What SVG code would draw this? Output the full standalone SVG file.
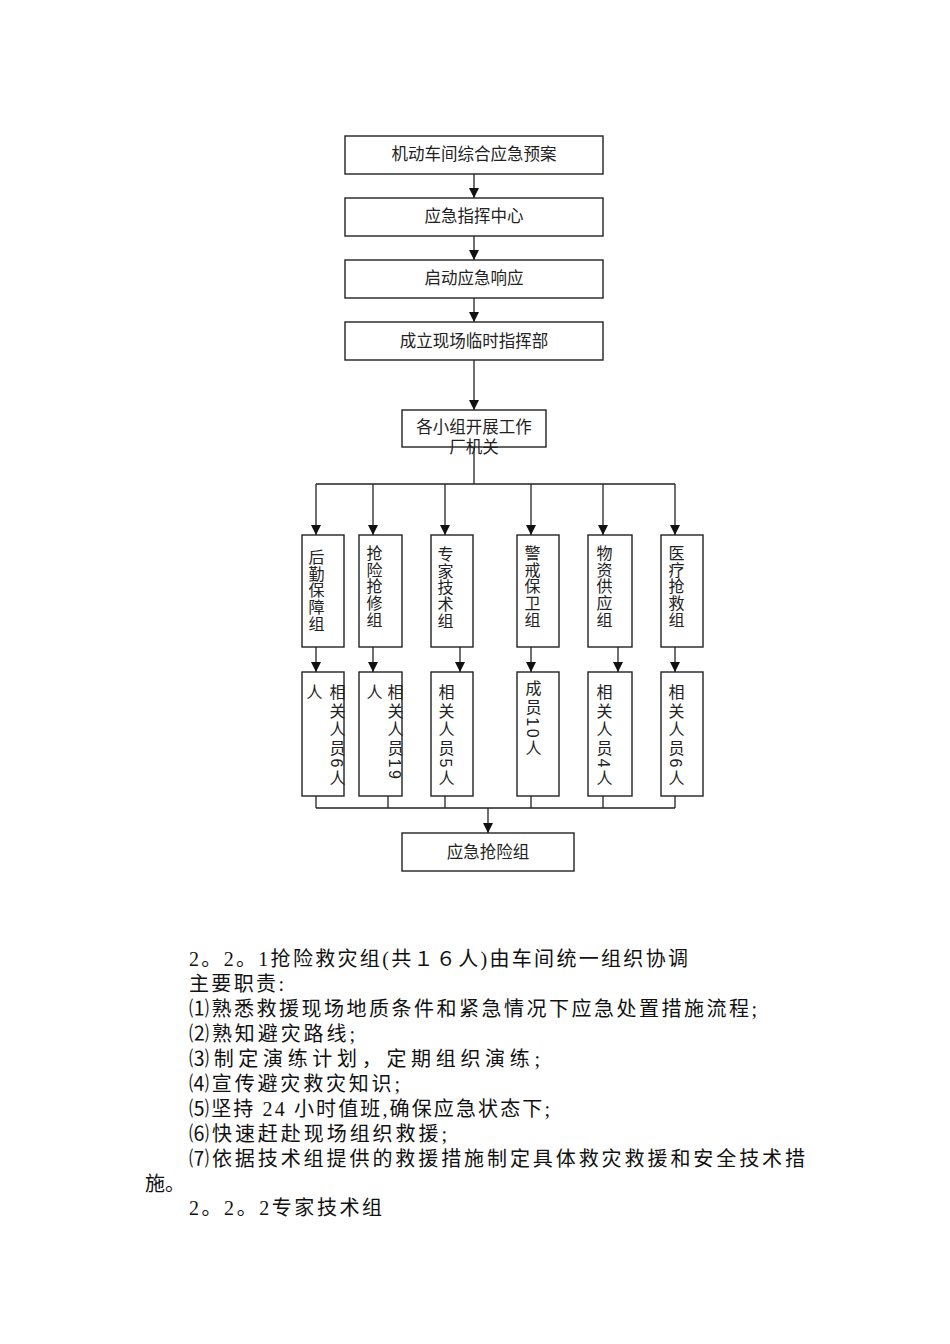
<svg xmlns="http://www.w3.org/2000/svg" width="950" height="1344" viewBox="0 0 950 1344">
<style>
.box{fill:#fff;stroke:#222;stroke-width:1.4}
.lbl{font-family:"Liberation Sans","Noto Sans CJK SC",sans-serif;font-size:16.5px;fill:#222;text-anchor:middle}
.vt{font-family:"Liberation Sans","Noto Sans CJK SC",sans-serif;font-size:16px;fill:#222;writing-mode:vertical-rl;letter-spacing:0.7px}
.vt2{font-family:"Liberation Sans","Noto Sans CJK SC",sans-serif;font-size:16px;fill:#222;writing-mode:vertical-rl;letter-spacing:2.6px}
.ln{fill:none;stroke:#222;stroke-width:1.3}
.arr{marker-end:url(#ah)}
.body{font-family:"Liberation Serif","Noto Sans CJK SC",serif;font-size:20px;fill:#111}
</style>
<defs>
<marker id="ah" markerUnits="userSpaceOnUse" markerWidth="10" markerHeight="10" refX="10" refY="5" orient="auto">
<path d="M0,0 L10,5 L0,10 z" fill="#111"/>
</marker>
</defs>
<rect width="950" height="1344" fill="#fff"/>

<g id="connectors">
<line class="ln arr" x1="474" y1="174" x2="474" y2="198"/>
<line class="ln arr" x1="474" y1="236" x2="474" y2="260"/>
<line class="ln arr" x1="474" y1="298" x2="474" y2="322"/>
<line class="ln arr" x1="474" y1="360" x2="474" y2="410"/>
<line class="ln" x1="474" y1="447" x2="474" y2="484"/>
<line class="ln" x1="316" y1="484" x2="675" y2="484"/>
<line class="ln arr" x1="316" y1="484" x2="316" y2="535"/>
<line class="ln arr" x1="373" y1="484" x2="373" y2="535"/>
<line class="ln arr" x1="445" y1="484" x2="445" y2="535"/>
<line class="ln arr" x1="531" y1="484" x2="531" y2="535"/>
<line class="ln arr" x1="603" y1="484" x2="603" y2="535"/>
<line class="ln arr" x1="675" y1="484" x2="675" y2="535"/>
<line class="ln arr" x1="316" y1="647" x2="316" y2="672"/>
<line class="ln arr" x1="373" y1="647" x2="373" y2="672"/>
<line class="ln arr" x1="460" y1="647" x2="460" y2="672"/>
<line class="ln arr" x1="531" y1="647" x2="531" y2="672"/>
<line class="ln arr" x1="618" y1="647" x2="618" y2="672"/>
<line class="ln arr" x1="675" y1="647" x2="675" y2="672"/>
<line class="ln" x1="316" y1="796" x2="316" y2="808"/>
<line class="ln" x1="388" y1="796" x2="388" y2="808"/>
<line class="ln" x1="445" y1="796" x2="445" y2="808"/>
<line class="ln" x1="531" y1="796" x2="531" y2="808"/>
<line class="ln" x1="603" y1="796" x2="603" y2="808"/>
<line class="ln" x1="675" y1="796" x2="675" y2="808"/>
<line class="ln" x1="316" y1="808" x2="675" y2="808"/>
<line class="ln arr" x1="488" y1="808" x2="488" y2="833"/>
</g>

<g id="n1"><rect class="box" x="345" y="136" width="258" height="38"/><text class="lbl" x="474" y="160">机动车间综合应急预案</text></g>
<g id="n2"><rect class="box" x="345" y="198" width="258" height="38"/><text class="lbl" x="474" y="222">应急指挥中心</text></g>
<g id="n3"><rect class="box" x="345" y="260" width="258" height="38"/><text class="lbl" x="474" y="284">启动应急响应</text></g>
<g id="n4"><rect class="box" x="345" y="322" width="258" height="38"/><text class="lbl" x="474" y="347">成立现场临时指挥部</text></g>
<g id="n5"><rect class="box" x="402" y="410" width="144" height="37"/><text class="lbl" x="474" y="433">各小组开展工作</text><text class="lbl" x="474" y="453">厂机关</text></g>

<g id="g1"><rect class="box" x="302" y="535" width="42" height="112"/><text class="vt" x="315" y="549">后勤保障组</text></g>
<g id="g2"><rect class="box" x="359" y="535" width="43" height="112"/><text class="vt" x="373" y="545">抢险抢修组</text></g>
<g id="g3"><rect class="box" x="431" y="535" width="42" height="112"/><text class="vt" x="444" y="546">专家技术组</text></g>
<g id="g4"><rect class="box" x="517" y="535" width="42" height="112"/><text class="vt" x="531" y="545">警戒保卫组</text></g>
<g id="g5"><rect class="box" x="588" y="535" width="44" height="112"/><text class="vt" x="603" y="545">物资供应组</text></g>
<g id="g6"><rect class="box" x="661" y="535" width="42" height="112"/><text class="vt" x="675" y="545">医疗抢救组</text></g>

<g id="m1"><rect class="box" x="302" y="672" width="42" height="124"/><text class="vt2" x="336" y="684">相关人员6人</text><text class="vt2" x="313" y="684">人</text></g>
<g id="m2"><rect class="box" x="359" y="672" width="43" height="124"/><text class="vt2" x="394" y="684">相关人员19</text><text class="vt2" x="373" y="684">人</text></g>
<g id="m3"><rect class="box" x="431" y="672" width="42" height="124"/><text class="vt2" x="445" y="684">相关人员5人</text></g>
<g id="m4"><rect class="box" x="517" y="672" width="42" height="124"/><text class="vt2" x="532" y="680">成员10人</text></g>
<g id="m5"><rect class="box" x="588" y="672" width="44" height="124"/><text class="vt2" x="603" y="684">相关人员4人</text></g>
<g id="m6"><rect class="box" x="661" y="672" width="42" height="124"/><text class="vt2" x="675" y="684">相关人员6人</text></g>

<g id="n7"><rect class="box" x="402" y="833" width="172" height="38"/><text class="lbl" x="488" y="858">应急抢险组</text></g>

<g id="body">
<text class="body" x="189" y="966" textLength="499">2。2。1抢险救灾组(共１６人)由车间统一组织协调</text>
<text class="body" x="189" y="991" textLength="95">主要职责:</text>
<text class="body" x="189" y="1016" textLength="568">⑴熟悉救援现场地质条件和紧急情况下应急处置措施流程;</text>
<text class="body" x="189" y="1041" textLength="166">⑵熟知避灾路线;</text>
<text class="body" x="189" y="1066" textLength="351">⑶制定演练计划，定期组织演练;</text>
<text class="body" x="189" y="1091" textLength="211">⑷宣传避灾救灾知识;</text>
<text class="body" x="189" y="1116" textLength="361">⑸坚持 24 小时值班,确保应急状态下;</text>
<text class="body" x="189" y="1141" textLength="258">⑹快速赶赴现场组织救援;</text>
<text class="body" x="189" y="1166" textLength="616">⑺依据技术组提供的救援措施制定具体救灾救援和安全技术措</text>
<text class="body" x="145" y="1191">施。</text>
<text class="body" x="189" y="1215" textLength="193">2。2。2专家技术组</text>
</g>
</svg>
